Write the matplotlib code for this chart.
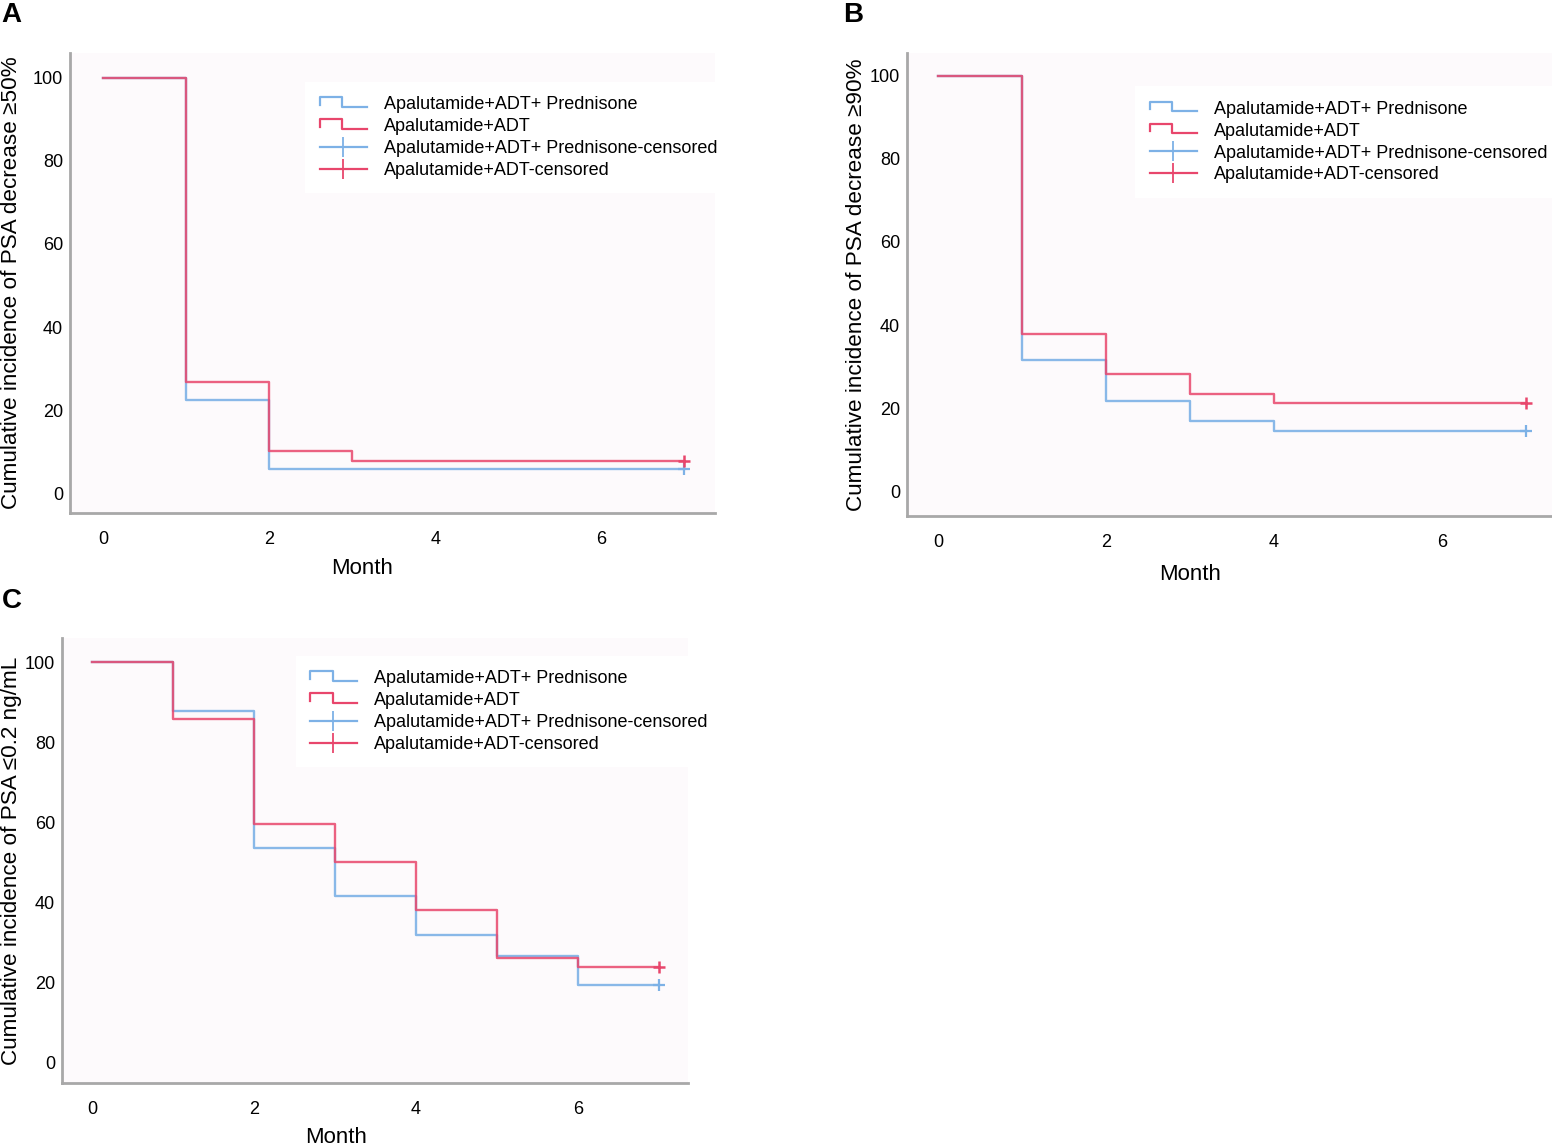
import matplotlib
matplotlib.use('Agg')
import matplotlib.pyplot as plt
from matplotlib.lines import Line2D
from matplotlib.legend_handler import HandlerBase

plt.rcParams['font.family'] = ['Liberation Sans', 'DejaVu Sans']

months = [0, 1, 2, 3, 4, 5, 6, 7]

# Panel A: PSA decrease >=50%
a_pred = [100, 22.4, 5.8, 5.8, 5.8, 5.8, 5.8, 5.8]
a_adt = [100, 26.7, 10.2, 7.8, 7.8, 7.8, 7.8, 7.8]

# Panel B: PSA decrease >=90%
b_pred = [100, 31.6, 21.7, 16.9, 14.5, 14.5, 14.5, 14.5]
b_adt = [100, 37.8, 28.2, 23.4, 21.2, 21.2, 21.2, 21.2]

# Panel C: PSA <=0.2 ng/mL
c_pred = [100, 87.8, 53.6, 41.6, 31.9, 26.7, 19.5, 19.5]
c_adt = [100, 85.8, 59.6, 50.1, 38.2, 26.2, 23.9, 23.9]

labels = ['Apalutamide+ADT+ Prednisone', 'Apalutamide+ADT',
          'Apalutamide+ADT+ Prednisone-censored', 'Apalutamide+ADT-censored']
ylabels = ['Cumulative incidence of PSA decrease \u226550%',
           'Cumulative incidence of PSA decrease \u226590%',
           'Cumulative incidence of PSA \u22640.2 ng/mL']
xticks = [0, 2, 4, 6]
yticks = [0, 20, 40, 60, 80, 100]

BLUE = '#7db1e6'
RED = '#e8466c'


class StepHandler(HandlerBase):
    def create_artists(self, legend, orig_handle, xdescent, ydescent,
                       width, height, fontsize, trans):
        x0 = -xdescent
        y0 = -ydescent
        xs = [x0, x0, x0 + width * 0.48, x0 + width * 0.48, x0 + width]
        ys = [y0 + height * 0.35, y0 + height * 0.95, y0 + height * 0.95,
              y0 + height * 0.2, y0 + height * 0.2]
        line = Line2D(xs, ys, color=orig_handle.get_color(), lw=1.6)
        line.set_transform(trans)
        return [line]


def draw_panel(ax, pred, adt, ylabel, xlim, ylim, leg_anchor, xlab_pos, ylab_x):
    ax.set_facecolor('#fdfafc')
    ax.step(months, pred, where='post', color=BLUE, lw=1.7, alpha=0.9)
    ax.step(months, adt, where='post', color=RED, lw=1.7, alpha=0.85)
    ax.plot(months[-1], pred[-1], marker='+', color=BLUE, ms=8, mew=1.6)
    ax.plot(months[-1], adt[-1], marker='+', color=RED, ms=8, mew=1.8)

    ax.set_xlim(*xlim)
    ax.set_ylim(*ylim)
    ax.set_xticks(xticks)
    ax.set_yticks(yticks)
    ax.tick_params(length=0, labelsize=13)
    ax.tick_params(axis='x', pad=13)
    ax.tick_params(axis='y', pad=5)
    for s in ['top', 'right']:
        ax.spines[s].set_visible(False)
    for s in ['left', 'bottom']:
        ax.spines[s].set_color('#a8a8a8')
        ax.spines[s].set_linewidth(2)
    ax.set_xlabel('Month', fontsize=16)
    ax.xaxis.set_label_coords(*xlab_pos)
    ax.set_ylabel(ylabel, fontsize=16.2)
    ax.yaxis.set_label_coords(ylab_x, 0.5)

    h1 = Line2D([], [], color=BLUE)
    h2 = Line2D([], [], color=RED)
    h3 = Line2D([], [], color=BLUE, lw=1.6, marker='|', ms=14, mew=1.3)
    h4 = Line2D([], [], color=RED, lw=1.6, marker='|', ms=14, mew=1.3)
    leg = ax.legend([h1, h2, h3, h4], labels, loc='upper left',
                    bbox_to_anchor=leg_anchor, fontsize=13,
                    handler_map={h1: StepHandler(), h2: StepHandler()},
                    handlelength=2.6, handletextpad=0.95, labelspacing=0.27,
                    frameon=True, fancybox=False, borderaxespad=0,
                    borderpad=0.8)
    leg.get_frame().set_facecolor('white')
    leg.get_frame().set_edgecolor('none')
    leg.get_frame().set_alpha(1)


fig = plt.figure(figsize=(15.52, 11.47), dpi=100)

ax_a = fig.add_axes([0.0451, 0.5527, 0.4156, 0.4011])
ax_b = fig.add_axes([0.5844, 0.5501, 0.4156, 0.4037])
ax_c = fig.add_axes([0.0400, 0.0558, 0.4033, 0.3880])

draw_panel(ax_a, a_pred, a_adt, ylabels[0], (-0.4, 7.37), (-4.8, 106),
           (0.365, 0.937), (0.453, -0.098), -0.074)
draw_panel(ax_b, b_pred, b_adt, ylabels[1], (-0.37, 7.31), (-6, 105.5),
           (0.354, 0.928), (0.439, -0.104), -0.062)
draw_panel(ax_c, c_pred, c_adt, ylabels[2], (-0.37, 7.36), (-5, 106),
           (0.373, 0.96), (0.438, -0.099), -0.064)

fig.text(0.001, 0.998, 'A', fontsize=20, fontweight='bold', va='top', ha='left')
fig.text(0.543, 0.998, 'B', fontsize=20, fontweight='bold', va='top', ha='left')
fig.text(0.001, 0.487, 'C', fontsize=20, fontweight='bold', va='top', ha='left')

fig.savefig('out.png', dpi=100)
